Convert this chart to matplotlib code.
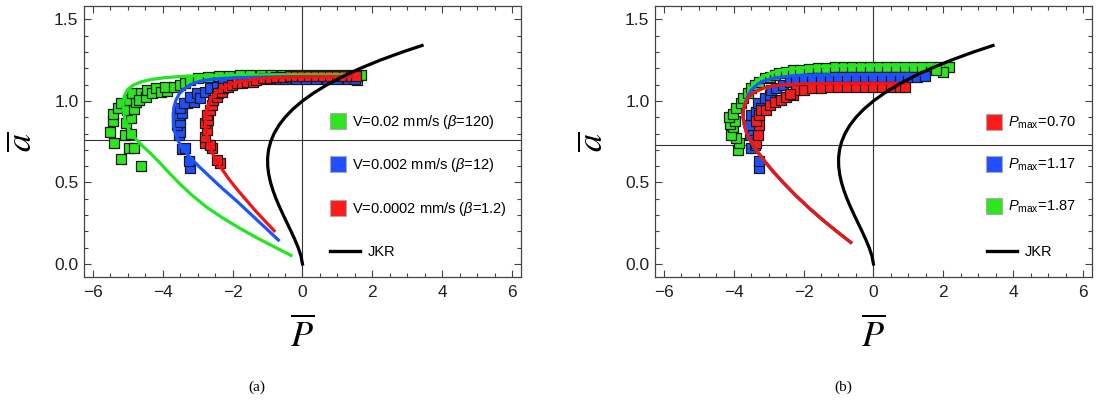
import matplotlib
matplotlib.use('Agg')
import matplotlib.pyplot as plt
from matplotlib.lines import Line2D
from matplotlib.ticker import MultipleLocator, FormatStrFormatter

plt.rcParams['font.family'] = ['Liberation Sans', 'DejaVu Sans']
plt.rcParams['mathtext.fontset'] = 'custom'
plt.rcParams['mathtext.rm'] = 'Liberation Sans'
plt.rcParams['mathtext.it'] = 'Liberation Sans:italic'

# ---- JKR curve (both panels) ----
jkr_P = [0.0, -0.044, -0.122, -0.219, -0.326, -0.438, -0.549, -0.657, -0.756, -0.843,
         -0.914, -0.966, -0.995, -0.998, -0.971, -0.911, -0.814, -0.678, -0.499, -0.274,
         0.0, 0.327, 0.709, 1.151, 1.654, 2.222, 2.859, 3.42]
jkr_a = [0.0, 0.05, 0.1, 0.15, 0.2, 0.25, 0.3, 0.35, 0.4, 0.45,
         0.5, 0.55, 0.6, 0.65, 0.7, 0.75, 0.8, 0.85, 0.9, 0.95,
         1.0, 1.05, 1.1, 1.15, 1.2, 1.25, 1.3, 1.34]

# ---- panel (a): model curves ----
a_green_fit_P = [-0.33, -0.8, -1.3, -1.8, -2.3, -2.75, -3.15, -3.5, -3.84, -4.1, -4.33, -4.56,
                 -4.78, -4.96, -5.07, -5.12, -5.13, -5.09, -5.0, -4.84, -4.62, -4.32, -3.92,
                 -3.4, -2.8, -2.0, -1.0, 0.0, 1.2]
a_green_fit_a = [0.053, 0.105, 0.16, 0.22, 0.285, 0.35, 0.42, 0.49, 0.565, 0.625, 0.675, 0.72,
                 0.77, 0.82, 0.88, 0.94, 0.99, 1.035, 1.07, 1.097, 1.117, 1.132, 1.143, 1.151,
                 1.155, 1.158, 1.16, 1.16, 1.16]
a_blue_fit_P = [-0.69, -1.1, -1.5, -1.9, -2.3, -2.65, -2.97, -3.24, -3.45, -3.58, -3.66, -3.69,
                -3.70, -3.68, -3.62, -3.52, -3.38, -3.2, -2.98, -2.7, -2.3, -1.8, -1.0, 0.0,
                0.8, 1.4]
a_blue_fit_a = [0.147, 0.23, 0.31, 0.39, 0.465, 0.535, 0.60, 0.66, 0.715, 0.765, 0.815, 0.86,
                0.91, 0.96, 1.005, 1.045, 1.075, 1.1, 1.118, 1.13, 1.138, 1.143, 1.147, 1.15,
                1.15, 1.15]
a_red_fit_P = [-0.81, -1.1, -1.36, -1.62, -1.88, -2.12, -2.33, -2.49, -2.6, -2.68, -2.74, -2.77,
               -2.78, -2.76, -2.71, -2.62, -2.5, -2.33, -2.1, -1.8, -1.41, -0.9, -0.18, 0.5,
               1.1, 1.4]
a_red_fit_a = [0.204, 0.27, 0.33, 0.395, 0.46, 0.525, 0.59, 0.645, 0.69, 0.74, 0.79, 0.84,
               0.885, 0.93, 0.97, 1.01, 1.045, 1.075, 1.1, 1.118, 1.132, 1.142, 1.148, 1.15,
               1.15, 1.15]

# ---- panel (a): measured points ----
a_green_P = [-4.63, -5.2, -5.39, -5.5, -5.43, -5.42, -5.29, -5.2, -4.96, -4.82, -5.07, -4.91,
             -5.06, -4.91, -5.01, -4.82, -4.96, -4.77, -4.87, -4.63, -4.68, -4.49, -4.44, -4.3,
             -4.2, -4.06, -3.89, -3.92, -3.68, -3.49, -3.35, -3.21, -3.0, -2.7, -2.4, -2.1,
             -1.8, -1.5, -1.2, -0.9, -0.6, -0.3, 0.0, 0.3, 0.6, 0.9, 1.2, 1.45, 1.57, 1.67]
a_green_a = [0.60, 0.644, 0.744, 0.81, 0.877, 0.92, 0.955, 0.986, 0.71, 0.71, 0.79, 0.80,
             0.867, 0.894, 0.945, 0.949, 1.006, 0.996, 1.047, 1.047, 1.006, 1.026, 1.067, 1.047,
             1.078, 1.053, 1.063, 1.088, 1.088, 1.098, 1.112, 1.129, 1.14, 1.145, 1.15, 1.155,
             1.158, 1.16, 1.16, 1.16, 1.16, 1.16, 1.16, 1.16, 1.16, 1.16, 1.16, 1.16, 1.13, 1.16]
a_blue_P = [-3.21, -3.26, -3.45, -3.35, -3.54, -3.49, -3.59, -3.51, -3.54, -3.45, -3.49, -3.30,
            -3.40, -3.11, -3.21, -3.02, -2.93, -2.78, -2.64, -2.45, -2.26, -1.98, -1.7, -1.4,
            -1.1, -0.8, -0.5, -0.2, 0.1, 0.4, 0.7, 1.0, 1.3, 1.5]
a_blue_a = [0.587, 0.632, 0.706, 0.71, 0.79, 0.81, 0.853, 0.873, 0.914, 0.925, 0.955, 0.986,
            0.99, 0.996, 1.026, 1.047, 1.017, 1.057, 1.078, 1.088, 1.109, 1.118, 1.125, 1.13,
            1.132, 1.135, 1.135, 1.135, 1.135, 1.135, 1.135, 1.135, 1.135, 1.135]
a_red_P = [-2.36, -2.45, -2.59, -2.78, -2.64, -2.78, -2.74, -2.78, -2.69, -2.74, -2.64, -2.59,
           -2.55, -2.45, -2.41, -2.31, -2.26, -2.12, -2.03, -1.88, -1.74, -1.60, -1.41, -1.32,
           -1.13, -0.94, -0.75, -0.56, -0.37, -0.18, 0.0, 0.2, 0.4, 0.6, 0.8, 1.0, 1.2, 1.4, 1.53]
a_red_a = [0.618, 0.638, 0.71, 0.74, 0.73, 0.78, 0.822, 0.863, 0.883, 0.914, 0.945, 0.975,
           1.006, 1.026, 1.047, 1.057, 1.078, 1.088, 1.098, 1.109, 1.109, 1.118, 1.118, 1.129,
           1.14, 1.14, 1.149, 1.149, 1.153, 1.153, 1.155, 1.155, 1.155, 1.155, 1.155, 1.155,
           1.155, 1.155, 1.155]

# ---- panel (b): model curves ----
b_red_fit_P = [-0.65, -1.05, -1.45, -1.85, -2.22, -2.57, -2.88, -3.13, -3.34, -3.5, -3.62,
               -3.69, -3.73, -3.72, -3.67, -3.58, -3.45, -3.28, -3.07, -2.8, -2.49, -2.0, -1.2,
               -0.4, 0.4, 0.9]
b_red_fit_a = [0.133, 0.2, 0.27, 0.345, 0.42, 0.497, 0.57, 0.635, 0.695, 0.75, 0.80,
               0.85, 0.90, 0.945, 0.985, 1.02, 1.047, 1.067, 1.083, 1.094, 1.1, 1.105, 1.107,
               1.108, 1.108, 1.108]
b_blue_fit_P = [-0.65, -1.05, -1.45, -1.85, -2.22, -2.57, -2.88, -3.13, -3.34, -3.5, -3.62,
                -3.69, -3.73, -3.72, -3.67, -3.6, -3.48, -3.3, -3.1, -2.85, -2.5, -2.1, -1.5,
                -0.7, 0.2, 1.0, 1.5]
b_blue_fit_a = [0.133, 0.2, 0.27, 0.345, 0.42, 0.497, 0.57, 0.635, 0.695, 0.75, 0.80,
                0.85, 0.90, 0.945, 0.985, 1.03, 1.07, 1.105, 1.126, 1.14, 1.15, 1.157, 1.16,
                1.162, 1.162, 1.162, 1.162]
b_green_fit_P = [-0.65, -1.05, -1.45, -1.85, -2.22, -2.57, -2.88, -3.13, -3.34, -3.5, -3.62,
                 -3.69, -3.73, -3.72, -3.67, -3.62, -3.52, -3.38, -3.18, -2.95, -2.65, -2.25,
                 -1.7, -1.0, 0.0, 1.0, 2.0]
b_green_fit_a = [0.133, 0.2, 0.27, 0.345, 0.42, 0.497, 0.57, 0.635, 0.695, 0.75, 0.80,
                 0.85, 0.90, 0.945, 0.985, 1.03, 1.075, 1.115, 1.148, 1.17, 1.188, 1.2, 1.21,
                 1.215, 1.218, 1.22, 1.22]

# ---- panel (b): measured points ----
b_green_P = [-3.88, -3.85, -3.92, -4.07, -4.02, -4.11, -3.97, -4.13, -4.02, -3.92, -3.78, -3.73,
             -3.59, -3.49, -3.40, -3.26, -3.11, -2.97, -2.83, -2.69, -2.49, -2.31, -2.1, -1.85,
             -1.6, -1.35, -1.1, -0.85, -0.6, -0.35, -0.1, 0.15, 0.4, 0.65, 0.9, 1.15, 1.4, 1.65,
             1.9, 2.17, 2.0, 1.8]
b_green_a = [0.70, 0.74, 0.77, 0.79, 0.84, 0.86, 0.88, 0.90, 0.92, 0.955, 0.985, 1.016,
             1.047, 1.077, 1.097, 1.118, 1.139, 1.149, 1.159, 1.169, 1.179, 1.189, 1.19, 1.195,
             1.2, 1.205, 1.21, 1.21, 1.21, 1.21, 1.21, 1.21, 1.21, 1.21, 1.21, 1.21, 1.21, 1.21,
             1.21, 1.21, 1.18, 1.19]
b_blue_P = [-3.26, -3.26, -3.49, -3.40, -3.54, -3.45, -3.54, -3.49, -3.35, -3.31, -3.21, -3.11,
            -2.97, -2.92, -2.78, -2.59, -2.40, -2.21, -2.0, -1.75, -1.5, -1.25, -1.0, -0.75,
            -0.5, -0.25, 0.0, 0.25, 0.5, 0.75, 1.0, 1.25, 1.46]
b_blue_a = [0.587, 0.632, 0.71, 0.73, 0.79, 0.82, 0.85, 0.914, 0.934, 0.985, 0.955, 1.016,
            1.036, 1.067, 1.077, 1.097, 1.118, 1.128, 1.133, 1.138, 1.14, 1.143, 1.145, 1.145,
            1.145, 1.145, 1.145, 1.145, 1.145, 1.145, 1.145, 1.145, 1.15]
b_red_P = [-3.35, -3.31, -3.28, -3.35, -3.26, -3.21, -3.07, -2.97, -2.83, -2.64, -2.49, -2.31,
           -2.21, -2.4, -2.0, -1.75, -1.5, -1.25, -1.0, -0.75, -0.5, -0.25, 0.0, 0.25, 0.5,
           0.75, 0.89]
b_red_a = [0.74, 0.79, 0.85, 0.88, 0.914, 0.945, 0.945, 0.975, 0.996, 1.006, 1.026, 1.036,
           1.067, 1.045, 1.07, 1.078, 1.082, 1.085, 1.087, 1.088, 1.088, 1.088, 1.088, 1.088,
           1.088, 1.088, 1.087]

labels_a = ['V=0.02 mm/s ($\\beta$=120)', 'V=0.002 mm/s ($\\beta$=12)',
            'V=0.0002 mm/s ($\\beta$=1.2)']
labels_b = ['$P_{\\mathrm{max}}$=0.70', '$P_{\\mathrm{max}}$=1.17',
            '$P_{\\mathrm{max}}$=1.87']

GREEN, BLUE, RED = '#2ee61e', '#1f4fff', '#ff1a1a'
GREEN_L, BLUE_L, RED_L = '#22e622', '#1a55ff', '#f01414'
frame_col = '#444444'

fig = plt.figure(figsize=(10.98, 4.01), dpi=100)
ax1 = fig.add_axes([0.0765, 0.309, 0.398, 0.676])
ax2 = fig.add_axes([0.5965, 0.309, 0.398, 0.676])


def scatter(ax, P, a, c):
    ax.scatter(P, a, marker='s', s=46, c=c, edgecolors='#1a1a1a', linewidths=0.9, zorder=2)


def style(ax, hline):
    ax.set_xlim(-6.25, 6.25)
    ax.set_ylim(-0.08, 1.582)
    ax.xaxis.set_major_locator(MultipleLocator(2))
    ax.xaxis.set_minor_locator(MultipleLocator(0.5))
    ax.yaxis.set_major_locator(MultipleLocator(0.5))
    ax.yaxis.set_minor_locator(MultipleLocator(0.1))
    ax.yaxis.set_major_formatter(FormatStrFormatter('%.1f'))
    ax.tick_params(which='both', direction='in', top=True, right=True,
                   color=frame_col, width=0.8, labelsize=12.5, labelcolor='#222222')
    ax.tick_params(which='major', length=5)
    ax.tick_params(which='minor', length=3)
    ax.tick_params(axis='x', pad=6)
    ax.tick_params(axis='y', pad=4)
    for sp in ax.spines.values():
        sp.set_color(frame_col)
        sp.set_linewidth(0.9)
    ax.axhline(hline, color='#333333', lw=0.8, zorder=1)
    ax.axvline(0, color='#333333', lw=0.8, zorder=1)
    ax.set_xlabel(r'$\overline{P}$', fontsize=26, math_fontfamily='stix', labelpad=12)
    ax.set_ylabel(r'$\overline{a}$', fontsize=26, math_fontfamily='stix', labelpad=10)


def add_legend(ax, colors, labels, x_sq, x_line):
    handles = [Line2D([], [], ls='none', marker='s', markersize=11, markerfacecolor=c,
                      markeredgecolor='#aaaaaa', markeredgewidth=0.8) for c in colors]
    leg = ax.legend(handles, labels, loc='center left', bbox_to_anchor=(x_sq, 0.413),
                    frameon=False, fontsize=10.5, labelspacing=1.75, handlelength=1.2,
                    handletextpad=0.36, borderpad=0, borderaxespad=0)
    ax.add_artist(leg)
    jkr = Line2D([], [], color='black', lw=2.4)
    ax.legend([jkr], ['JKR'], loc='center left', bbox_to_anchor=(x_line, 0.092),
              frameon=False, fontsize=10.5, handlelength=2.05, handletextpad=0.55,
              borderpad=0, borderaxespad=0)


# panel (a)
scatter(ax1, a_green_P, a_green_a, GREEN)
scatter(ax1, a_blue_P, a_blue_a, BLUE)
scatter(ax1, a_red_P, a_red_a, RED)
ax1.plot(a_green_fit_P, a_green_fit_a, color=GREEN_L, lw=2.3, zorder=3)
ax1.plot(a_blue_fit_P, a_blue_fit_a, color=BLUE_L, lw=2.3, zorder=3)
ax1.plot(a_red_fit_P, a_red_fit_a, color=RED_L, lw=2.3, zorder=3)
ax1.plot(jkr_P, jkr_a, color='black', lw=2.3, zorder=3)
style(ax1, 0.758)
add_legend(ax1, [GREEN, BLUE, RED], labels_a, 0.561, 0.563)

# panel (b)
scatter(ax2, b_green_P, b_green_a, GREEN)
scatter(ax2, b_blue_P, b_blue_a, BLUE)
scatter(ax2, b_red_P, b_red_a, RED)
ax2.plot(b_green_fit_P, b_green_fit_a, color=GREEN_L, lw=2.3, zorder=3)
ax2.plot(b_blue_fit_P, b_blue_fit_a, color=BLUE_L, lw=2.3, zorder=3)
ax2.plot(b_red_fit_P, b_red_fit_a, color=RED_L, lw=2.3, zorder=3)
ax2.plot(jkr_P, jkr_a, color='black', lw=2.3, zorder=3)
style(ax2, 0.73)
add_legend(ax2, [RED, BLUE, GREEN], labels_b, 0.756, 0.76)

fig.text(257 / 1098, 1 - 387 / 401, '(a)', family='Liberation Serif', fontsize=11,
         ha='center', va='center')
fig.text(843 / 1098, 1 - 387 / 401, '(b)', family='Liberation Serif', fontsize=11,
         ha='center', va='center')

fig.savefig('out.png', dpi=100)
